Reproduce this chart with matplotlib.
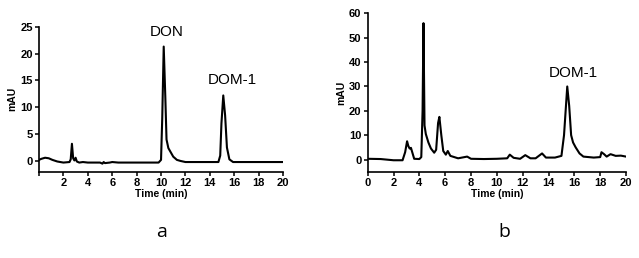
import matplotlib.pyplot as plt

# chromatogram a: DON + DOM-1 standard
t_a = [0.0, 0.2, 0.5, 0.8, 1.1, 1.5, 2.0, 2.5, 2.6, 2.7, 2.8, 2.9, 3.0, 3.1, 3.3, 3.6,
       4.0, 4.5, 5.0, 5.2, 5.3, 5.4, 5.8, 6.0, 6.5, 7.0, 8.0, 9.0, 9.8, 10.0, 10.1, 10.22,
       10.35, 10.45, 10.6, 10.8, 11.0, 11.3, 11.6, 12.0, 13.0, 14.0, 14.7, 14.85, 14.95,
       15.1, 15.25, 15.4, 15.6, 15.9, 16.5, 17.0, 18.0, 19.0, 20.0]
i_a = [0.2, 0.4, 0.6, 0.5, 0.2, -0.1, -0.3, -0.2, 0.3, 3.2, 0.5, 0.1, 0.6, -0.1, -0.3, -0.2,
       -0.3, -0.3, -0.3, -0.5, -0.2, -0.4, -0.3, -0.2, -0.3, -0.3, -0.3, -0.3, -0.3, 0.2, 8.0, 21.3,
       12.0, 4.0, 2.4, 1.6, 0.8, 0.2, 0.0, -0.2, -0.2, -0.2, -0.2, 1.0, 7.0,
       12.2, 8.5, 2.5, 0.3, -0.2, -0.2, -0.2, -0.2, -0.2, -0.2]

# chromatogram b: sample
t_b = [0.0, 1.0, 2.0, 2.7, 2.9, 3.05, 3.15, 3.25, 3.35, 3.6, 4.0, 4.15, 4.25, 4.32, 4.4,
       4.5, 4.7, 4.9, 5.15, 5.3, 5.45, 5.55, 5.7, 5.85, 6.05, 6.2, 6.4, 7.0, 7.7, 8.0,
       9.0, 10.0, 10.8, 11.0, 11.3, 11.8, 12.2, 12.6, 13.0, 13.5, 13.8, 14.5, 15.0, 15.2,
       15.45, 15.6, 15.75, 15.9, 16.1, 16.4, 16.7, 17.5, 18.0, 18.1, 18.3, 18.5, 18.8, 19.2, 19.6, 20.0]
i_b = [0.3, 0.2, -0.3, -0.3, 3.0, 7.5, 5.5, 4.5, 4.8, 0.3, 0.2, 1.0, 20.0, 56.0, 14.0,
       10.5, 7.0, 4.5, 2.8, 4.0, 15.0, 17.5, 10.0, 3.5, 2.0, 3.5, 1.5, 0.5, 1.2, 0.3,
       0.2, 0.3, 0.5, 2.0, 0.7, 0.3, 1.8, 0.5, 0.5, 2.5, 0.8, 0.8, 1.5, 10.0,
       30.0, 22.0, 10.0, 7.0, 5.0, 2.5, 1.2, 0.8, 1.0, 3.0, 2.2, 1.2, 2.2, 1.5, 1.6, 1.2]

xticks = list(range(0, 21, 2))
xtick_labels_a = [''] + [str(v) for v in xticks[1:]]
xtick_labels_b = [str(v) for v in xticks]
yticks_a = [0, 5, 10, 15, 20, 25]
yticks_b = [0, 10, 20, 30, 40, 50, 60]

plt.rcParams['font.family'] = 'Liberation Sans'

fig = plt.figure(figsize=(6.39, 2.58), dpi=100)
ax_a = fig.add_axes([0.061, 0.3345, 0.382, 0.562])
ax_b = fig.add_axes([0.5754, 0.3345, 0.4043, 0.6135])

for ax in (ax_a, ax_b):
    ax.spines['top'].set_visible(False)
    ax.spines['right'].set_visible(False)
    ax.spines['left'].set_linewidth(1.2)
    ax.spines['bottom'].set_linewidth(1.2)
    ax.tick_params(direction='out', length=3, width=1.1, labelsize=8, pad=1.5)
    ax.set_xlim(0, 20)
    ax.set_xlabel('Time (min)', fontsize=7.5, fontweight='bold', labelpad=1)
    ax.set_ylabel('mAU', fontsize=7.5, fontweight='bold', labelpad=2)

ax_a.plot(t_a, i_a, color='black', linewidth=1.5)
ax_a.set_ylim(-2, 25)
ax_a.set_xticks(xticks)
ax_a.set_xticklabels(xtick_labels_a, fontweight='bold')
ax_a.set_yticks(yticks_a)
ax_a.set_yticklabels([str(v) for v in yticks_a], fontweight='bold')
ax_a.text(10.5, 24.0, 'DON', fontsize=11, ha='center', va='center')
ax_a.text(15.8, 15.1, 'DOM-1', fontsize=11, ha='center', va='center')

ax_b.plot(t_b, i_b, color='black', linewidth=1.5)
ax_b.set_ylim(-5, 60)
ax_b.set_xticks(xticks)
ax_b.set_xticklabels(xtick_labels_b, fontweight='bold')
ax_b.set_yticks(yticks_b)
ax_b.set_yticklabels([str(v) for v in yticks_b], fontweight='bold')
ax_b.text(15.9, 35.4, 'DOM-1', fontsize=11, ha='center', va='center')

fig.text(0.2535, 0.1, 'a', fontsize=14, ha='center', va='center', family='Open Sans')
fig.text(0.790, 0.1, 'b', fontsize=14, ha='center', va='center', family='Open Sans')

fig.savefig('out.png', dpi=100)
